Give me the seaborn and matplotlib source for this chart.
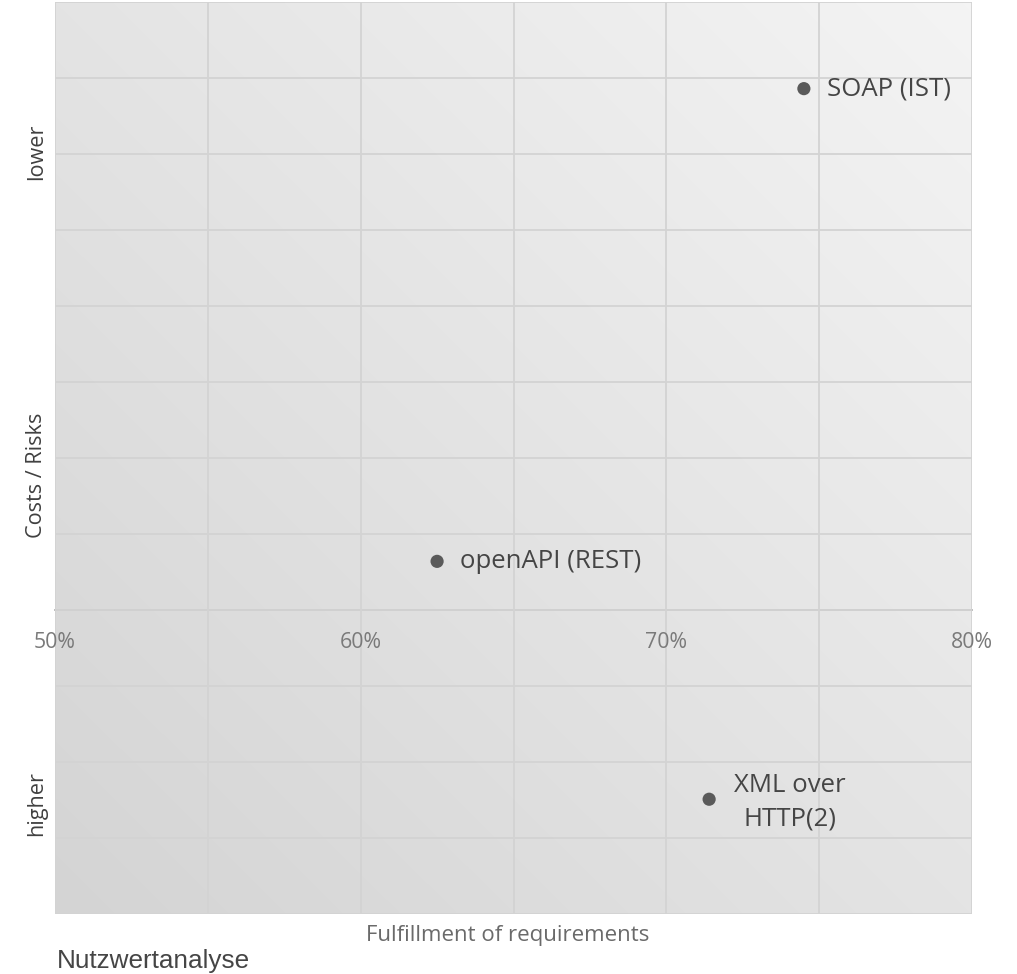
import numpy as np
import pandas as pd
import matplotlib
matplotlib.use("Agg")
import matplotlib.pyplot as plt
import seaborn as sns

# ---- data ----
names = ["SOAP (IST)", "openAPI (REST)", "XML over\nHTTP(2)"]
fulfillment = [0.745, 0.625, 0.714]      # share of requirements fulfilled
costs_risks = [6.86, 0.64, -2.49]        # + = lower, - = higher
x_tick_values = [0.5, 0.55, 0.6, 0.65, 0.7, 0.75, 0.8]
x_tick_labels = ["50%", "", "60%", "", "70%", "", "80%"]
y_axis_words = ["lower", "Costs / Risks", "higher"]

df = pd.DataFrame({"name": names, "x": fulfillment, "y": costs_risks})

sns.set_theme(style="white")
plt.rcParams["font.family"] = ["Open Sans", "DejaVu Sans"]

fig = plt.figure(figsize=(10.17, 9.74), dpi=100)
ax = fig.add_axes([55 / 1017, 1 - 914 / 974, (972 - 55) / 1017, (914 - 2) / 974])

xmin, xmax, ymin, ymax = 0.5, 0.8, -4, 8
# diagonal gradient background
n = 256
u = np.linspace(0, 1, n)
U, V = np.meshgrid(u, u)
G = (U + V) / 2
cmap = matplotlib.colors.LinearSegmentedColormap.from_list("g", ["#d4d4d4", "#f4f4f4"])
ax.imshow(G, origin="lower", extent=[xmin, xmax, ymin, ymax], aspect="auto",
          cmap=cmap, vmin=0, vmax=1, zorder=0, interpolation="bilinear")

ax.set_xlim(xmin, xmax)
ax.set_ylim(ymin, ymax)
ax.set_yticks(np.arange(-4, 8.001, 1))
ax.grid(True, color="#d3d3d3", linewidth=1.3, zorder=1)
ax.set_axisbelow(False)

for s in ["top", "right", "left"]:
    ax.spines[s].set_visible(False)
ax.spines["bottom"].set_position(("data", 0))
ax.spines["bottom"].set_color("#bdbdbd")
ax.spines["bottom"].set_linewidth(1.4)

ax.set_xticks(x_tick_values)
ax.set_xticklabels(x_tick_labels)
ax.tick_params(axis="x", length=0, pad=16, labelsize=15.3, labelcolor="#7a7a7a")
ax.tick_params(axis="y", length=0, labelleft=False)

sns.scatterplot(data=df, x="x", y="y", ax=ax, color="#5a5a5a", s=90,
                edgecolor="none", zorder=5, legend=False)
ax.set_xlabel("")
ax.set_ylabel("")

for nm, xv, yv in zip(df["name"], df["x"], df["y"]):
    if "\n" in nm:
        ax.annotate(nm, (xv, yv), xytext=(58, -2), textcoords="offset points",
                    ha="center", va="center", fontsize=18.5, color="#454545",
                    linespacing=1.45, zorder=6)
    else:
        ax.annotate(nm, (xv, yv), xytext=(16.5, 0), textcoords="offset points",
                    ha="left", va="center", fontsize=18.5, color="#454545", zorder=6)

# y-axis words
ypos = [152, 475, 804]
for w, yp in zip(y_axis_words, ypos):
    fig.text(37 / 1017, 1 - yp / 974, w, rotation=90, ha="center", va="center",
             fontsize=15.6, color="#404040")

fig.text(508 / 1017, 1 - 936 / 974, "Fulfillment of requirements", ha="center", va="center",
         fontsize=16, color="#6a6a6a")
fig.text(57 / 1017, 1 - 961 / 974, "Nutzwertanalyse", ha="left", va="center",
         fontsize=18.8, color="#454545", family=["Liberation Sans Narrow", "Liberation Sans", "DejaVu Sans"])

fig.savefig("out.png", dpi=100)
